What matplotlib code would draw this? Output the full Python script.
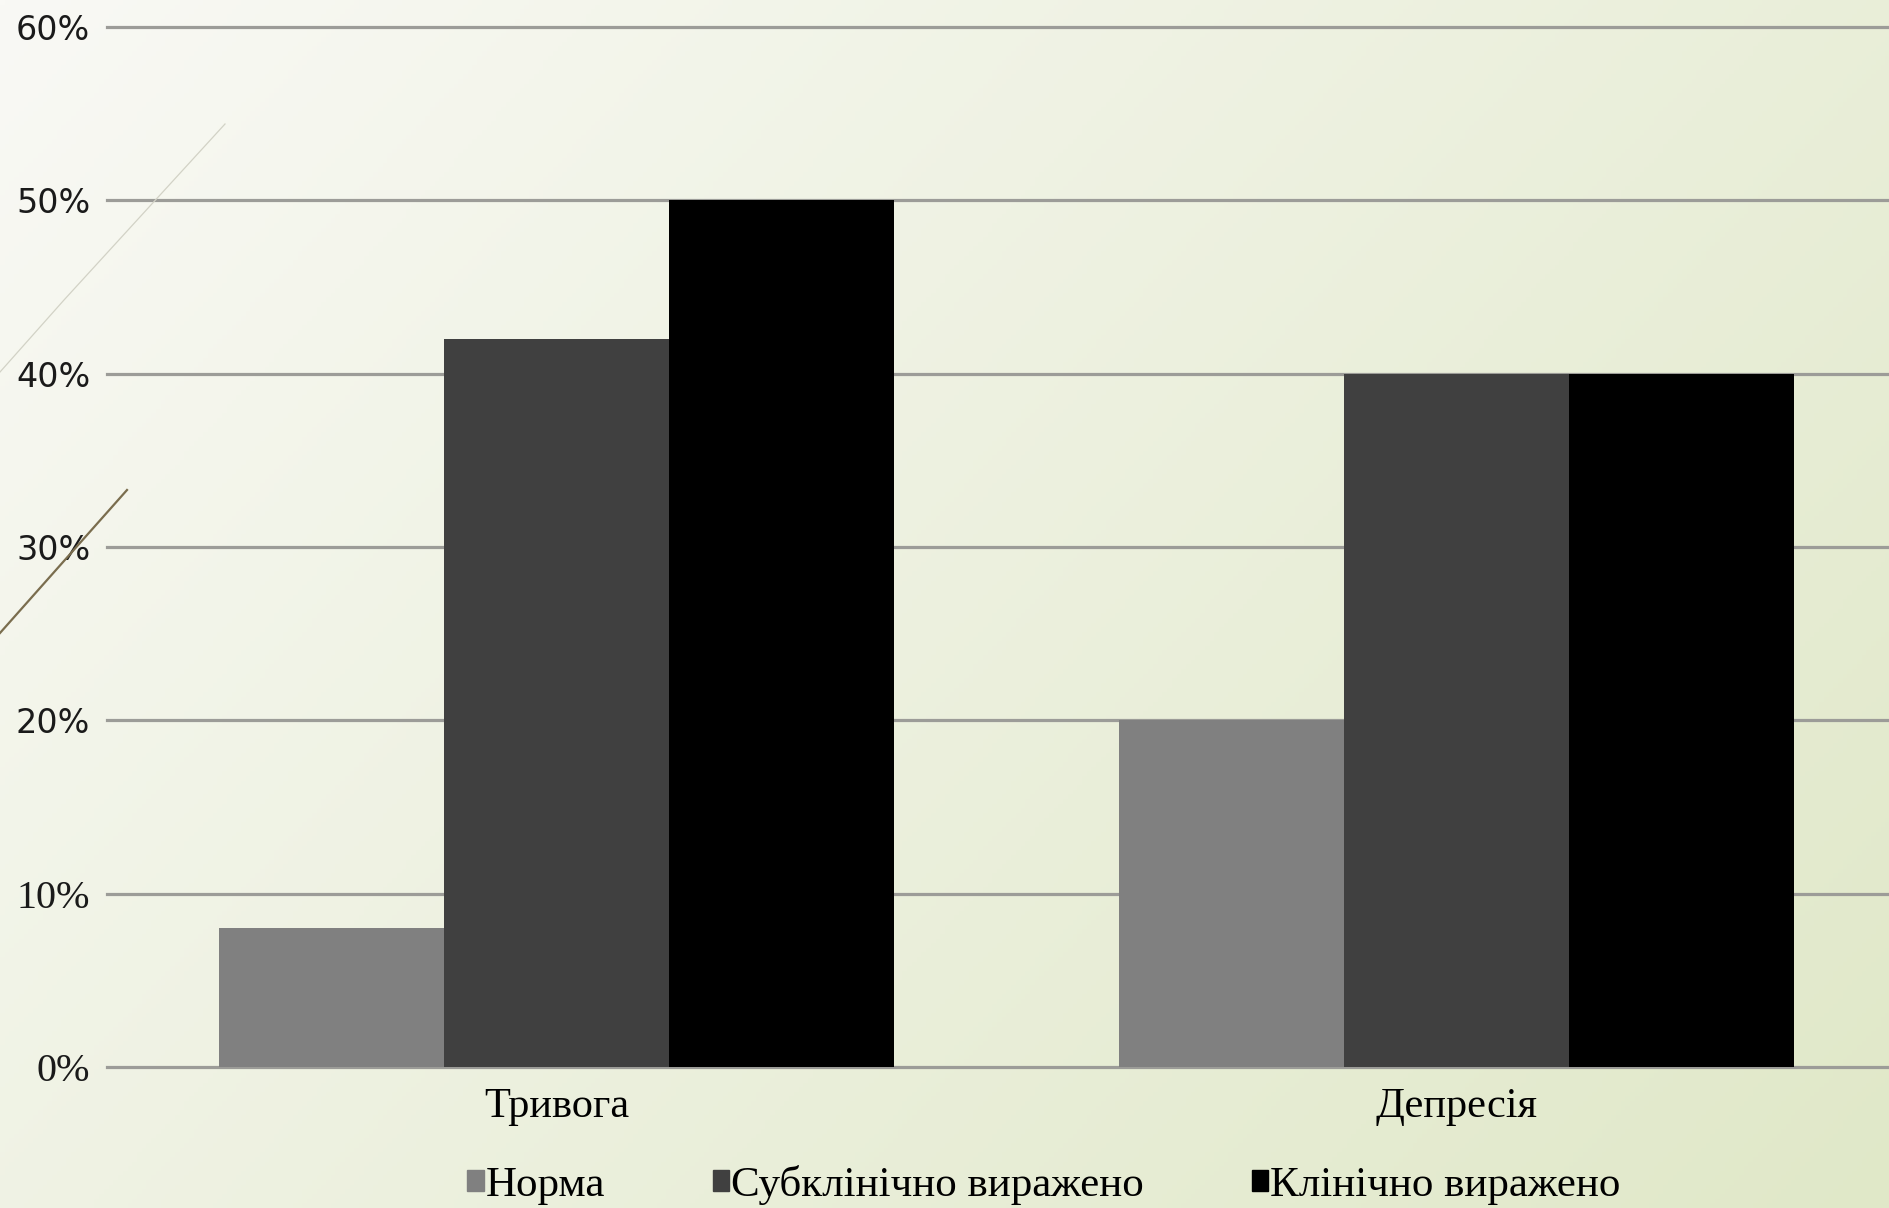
import numpy as np
import matplotlib.pyplot as plt
from matplotlib.patches import Patch
from matplotlib.lines import Line2D

categories = ['Тривога', 'Депресія']
series = ['Норма', 'Субклінічно виражено', 'Клінічно виражено']
norma = [8, 20]
subclinical = [42, 40]
clinical = [50, 40]
yticks = [0, 10, 20, 30, 40, 50, 60]
ytick_labels = ['0%', '10%', '20%', '30%', '40%', '50%', '60%']

colors = ['#808080', '#404040', '#000000']
W, H = 1890, 1208

fig = plt.figure(figsize=(W / 100, H / 100), dpi=100)

# background gradient: near white top-left -> pale green bottom-right
bg = fig.add_axes([0, 0, 1, 1], zorder=-10)
gx, gy = np.meshgrid(np.linspace(0, 1, 400), np.linspace(0, 1, 260))
t = np.clip(gx * 0.63 + gy * 0.37, 0, 1)[..., None]
c0 = np.array([249, 249, 245]) / 255
c1 = np.array([224, 232, 200]) / 255
bg.imshow(c0 * (1 - t) + c1 * t, aspect='auto', extent=[0, 1, 0, 1], origin='upper')
bg.set_axis_off()

# decorative swooshes on the left
fig.add_artist(Line2D([225 / W, 64 / W, 0], [1 - 124 / H, 1 - 300 / H, 1 - 372 / H],
                      color='#d2d2c6', lw=0.9))
fig.add_artist(Line2D([127 / W, 0], [1 - 490 / H, 1 - 633 / H], color='#7a6d4e', lw=1.6))

ax = fig.add_axes([107 / W, 1 - 1067 / H, 1 - 107 / W, (1067 - 27) / H])
ax.patch.set_alpha(0)

x = np.arange(len(categories))
w = 0.25
for i, vals in enumerate([norma, subclinical, clinical]):
    ax.bar(x + (i - 1) * w, vals, w, color=colors[i], label=series[i], zorder=3)

ax.set_xlim(-0.5, 1.482)
ax.set_ylim(0, 60)
ax.set_yticks(yticks)
ax.set_yticklabels(ytick_labels)
ax.set_xticks(x)
ax.set_xticklabels(categories, fontsize=30.5, family='Liberation Serif')
ax.yaxis.grid(True, color='#9c9c98', lw=2.3, zorder=0)
for gl in ax.get_ygridlines():
    gl.set_clip_on(False)
ax.tick_params(axis='both', length=0)
ax.tick_params(axis='x', pad=15)
ax.tick_params(axis='y', pad=12)
for v, lab in zip(yticks, ax.get_yticklabels()):
    if v <= 10:
        lab.set_family('Liberation Serif')
        lab.set_fontsize(29)
    else:
        lab.set_family('DejaVu Sans')
        lab.set_fontsize(24)
    lab.set_color('#1a1a1a')
for s in ax.spines.values():
    s.set_visible(False)

handles = [Patch(color=c) for c in colors]
fig.legend(handles, series, loc='center', bbox_to_anchor=(1044 / W, 1 - 1185 / H),
           ncol=3, frameon=False, prop={'family': 'Liberation Serif', 'size': 31},
           handlelength=0.38, handleheight=0.38, handletextpad=0.05, columnspacing=2.5)

fig.savefig('out.png', dpi=100)
